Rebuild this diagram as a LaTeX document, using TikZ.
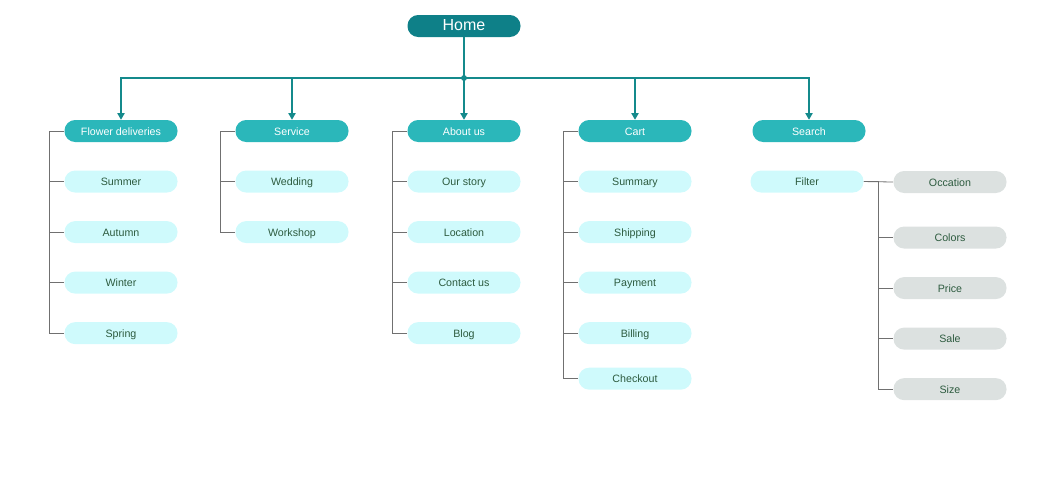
\documentclass[tikz,border=0pt]{standalone}
\usepackage{fontspec}
\setmainfont{Liberation Sans}
\usepackage{xcolor}
\usepackage{tikz}
\usetikzlibrary{arrows.meta,positioning}
\definecolor{homeTeal}{HTML}{0E8088}
\definecolor{catTeal}{HTML}{2BB7BA}
\definecolor{itemCyan}{HTML}{CFFAFC}
\definecolor{itemGray}{HTML}{DCE1E0}
\definecolor{itemText}{HTML}{2D5B3F}
\definecolor{busTeal}{HTML}{148A8C}
\definecolor{treeGray}{HTML}{707070}
\tikzset{
    pilula/.style={
        rectangle,
        rounded corners=8pt,
        align=center,
        minimum height=16.5pt,
        minimum width=84.75pt,
        inner sep=0pt,
        text height=0.7em,
        text depth=0.06em,
        font=\fontsize{8pt}{9pt}\selectfont
    },
    raiz/.style={pilula, fill=homeTeal, text=white, font=\fontsize{12pt}{13pt}\selectfont},
    categoria/.style={pilula, fill=catTeal, text=white},
    item/.style={pilula, fill=itemCyan, text=itemText},
    filtro/.style={pilula, fill=itemGray, text=itemText},
    barramento/.style={busTeal, line width=0.9pt},
    seta/.style={barramento, -{Triangle[length=5pt,width=5.5pt]}},
    arvore/.style={treeGray, line width=0.6pt}
}

\begin{document}
\begin{tikzpicture}[x=0.75pt, y=-0.75pt, node distance=21pt]
        \useasboundingbox (0,0) rectangle (1057,476);

        \node[raiz] (home) at (464,26) {Home};
        \coordinate (hub) at (464,78);

        \node[categoria] (flores) at (121,131) {Flower deliveries};
        \node[categoria] (servico) at (292,131) {Service};
        \node[categoria] (sobre) at (464,131) {About us};
        \node[categoria] (carrinho) at (635,131) {Cart};
        \node[categoria] (busca) at (809,131) {Search};

        % ramo: flower deliveries
        \node[item, below=of flores] (verao) {Summer};
        \node[item, below=of verao] (outono) {Autumn};
        \node[item, below=of outono] (inverno) {Winter};
        \node[item, below=of inverno] (primavera) {Spring};

        % ramo: service
        \node[item, below=of servico] (casamento) {Wedding};
        \node[item, below=of casamento] (oficina) {Workshop};

        % ramo: about us
        \node[item, below=of sobre] (historia) {Our story};
        \node[item, below=of historia] (local) {Location};
        \node[item, below=of local] (contato) {Contact us};
        \node[item, below=of contato] (blog) {Blog};

        % ramo: cart
        \node[item, below=of carrinho] (resumo) {Summary};
        \node[item, below=of resumo] (envio) {Shipping};
        \node[item, below=of envio] (pagamento) {Payment};
        \node[item, below=of pagamento] (cobranca) {Billing};
        \node[item, below=17.25pt of cobranca] (checkout) {Checkout};

        % ramo: search
        \node[item, below=of busca, xshift=-1.5pt] (filtro) {Filter};
        \node[filtro] (ocasiao) at (950,182) {Occation};
        \node[filtro, below=24.75pt of ocasiao] (cores) {Colors};
        \node[filtro, below=21pt of cores] (preco) {Price};
        \node[filtro, below=21pt of preco] (oferta) {Sale};
        \node[filtro, below=21pt of oferta] (tamanho) {Size};

        % barramento principal
        \draw[barramento] (home.south) -- (hub);
        \fill[busTeal] (hub) circle (2.2pt);
        \draw[seta] (hub) -| (flores.north);
        \draw[seta] (hub) -| (servico.north);
        \draw[seta] (hub) -- (sobre.north);
        \draw[seta] (hub) -| (carrinho.north);
        \draw[seta] (hub) -| (busca.north);

        % ligacoes dos itens
        \draw[arvore] (flores.west) -- ++(-15,0) |- (verao.west);
        \draw[arvore] (flores.west) -- ++(-15,0) |- (outono.west);
        \draw[arvore] (flores.west) -- ++(-15,0) |- (inverno.west);
        \draw[arvore] (flores.west) -- ++(-15,0) |- (primavera.west);

        \draw[arvore] (servico.west) -- ++(-15,0) |- (casamento.west);
        \draw[arvore] (servico.west) -- ++(-15,0) |- (oficina.west);

        \draw[arvore] (sobre.west) -- ++(-15,0) |- (historia.west);
        \draw[arvore] (sobre.west) -- ++(-15,0) |- (local.west);
        \draw[arvore] (sobre.west) -- ++(-15,0) |- (contato.west);
        \draw[arvore] (sobre.west) -- ++(-15,0) |- (blog.west);

        \draw[arvore] (carrinho.west) -- ++(-15,0) |- (resumo.west);
        \draw[arvore] (carrinho.west) -- ++(-15,0) |- (envio.west);
        \draw[arvore] (carrinho.west) -- ++(-15,0) |- (pagamento.west);
        \draw[arvore] (carrinho.west) -- ++(-15,0) |- (cobranca.west);
        \draw[arvore] (carrinho.west) -- ++(-15,0) |- (checkout.west);

        \draw[arvore] (filtro.east) -- (ocasiao.west);
        \draw[arvore] (filtro.east) -- ++(15,0) |- (cores.west);
        \draw[arvore] (filtro.east) -- ++(15,0) |- (preco.west);
        \draw[arvore] (filtro.east) -- ++(15,0) |- (oferta.west);
        \draw[arvore] (filtro.east) -- ++(15,0) |- (tamanho.west);
    \end{tikzpicture}
\end{document}
